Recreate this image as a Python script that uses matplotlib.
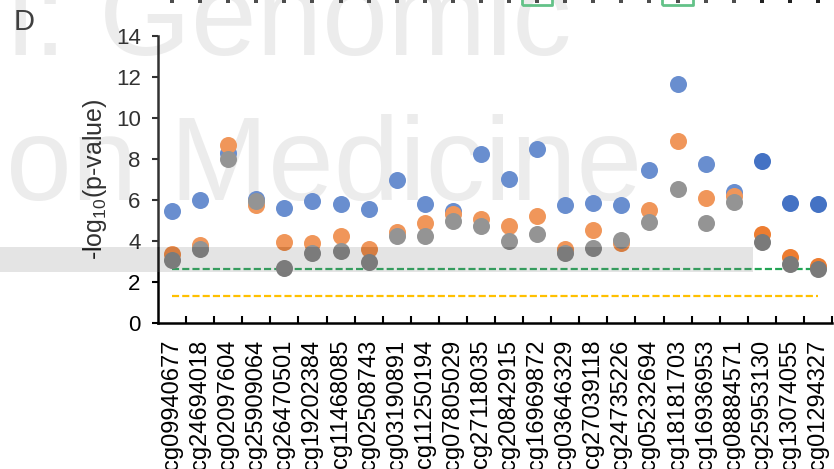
"""
Panel D: -log10(p-value) per CpG site, three models
"""
import numpy as np
import matplotlib
matplotlib.use('Agg')
import matplotlib.pyplot as plt
from matplotlib.patches import Rectangle

plt.rcParams['font.family'] = 'Liberation Sans'
plt.rcParams['mathtext.fontset'] = 'custom'
plt.rcParams['mathtext.rm'] = 'Liberation Sans'

# CpG sites on the x axis
sites = ['cg09940677', 'cg24694018', 'cg02097604', 'cg25909064', 'cg26470501',
         'cg19202384', 'cg11468085', 'cg02508743', 'cg03190891', 'cg11250194',
         'cg07805029', 'cg27118035', 'cg20842915', 'cg16969872', 'cg03646329',
         'cg27039118', 'cg24735226', 'cg05232694', 'cg18181703', 'cg16936953',
         'cg08884571', 'cg25953130', 'cg13074055', 'cg01294327']

# -log10(p) for the three series (blue, orange, gray)
blue_vals = [5.48, 6.03, 8.3, 6.08, 5.6, 5.97, 5.8, 5.56, 7.0, 5.8, 5.48, 8.28,
             7.02, 8.49, 5.76, 5.87, 5.76, 7.46, 11.66, 7.76, 6.38, 7.9, 5.84, 5.8]
orange_vals = [3.37, 3.79, 8.68, 5.76, 3.97, 3.92, 4.24, 3.6, 4.45, 4.9, 5.35, 5.06,
               4.73, 5.22, 3.64, 4.54, 3.89, 5.51, 8.89, 6.13, 6.2, 4.34, 3.23, 2.8]
gray_vals = [3.07, 3.6, 8.0, 5.95, 2.7, 3.43, 3.53, 3.0, 4.24, 4.24, 4.99, 4.75,
             4.01, 4.37, 3.43, 3.67, 4.05, 4.94, 6.57, 4.91, 5.92, 3.94, 2.88, 2.63]

# significance thresholds
bonf_thr = 2.65     # green dashed
nominal_thr = 1.3   # yellow dashed

# sites boxed in the panel above (only its bottom edge shows)
boxed_sites = ['cg16969872', 'cg18181703']

W, H = 834, 469
fig = plt.figure(figsize=(W / 100, H / 100), dpi=100)

# watermark left in the source image
fig.text(-58 / W, 1 - 55 / H, 'nl: Genomic', fontsize=85, color='#E8E8E8', zorder=-2)
fig.text(6 / W, 1 - 200 / H, 'on Medicine', fontsize=85, color='#E8E8E8', zorder=-2)

ax = fig.add_axes([158 / W, 1 - 323 / H, (832 - 158) / W, (323 - 36.5) / H])
ax.set_facecolor('none')

x = np.arange(len(sites))
ms = 150
ax.scatter(x, blue_vals, s=ms, color='#4472C4', linewidths=0, zorder=3)
ax.scatter(x, orange_vals, s=ms, color='#ED7D31', linewidths=0, zorder=4)
ax.scatter(x, gray_vals, s=ms, color='#7A7A7A', linewidths=0, zorder=5)

ends = x[[0, -1]]
ax.plot(ends, [bonf_thr] * 2, color='#23A455', lw=1.6, ls=(0, (3.2, 1.4)), zorder=2)
ax.plot(ends, [nominal_thr] * 2, color='#FFC000', lw=1.6, ls=(0, (3.2, 1.4)), zorder=2)

# bottom edge of the panel above
ax.scatter(x, [15.74] * len(x), marker='s', s=9, color='#222222',
           linewidths=0, clip_on=False)
bx = [sites.index(s) for s in boxed_sites]
ax.scatter(bx, [16.28] * len(bx), marker='s', s=480, facecolors='none',
           edgecolors='#3DB36B', linewidths=2, clip_on=False)

ax.set_xlim(-0.5, len(sites) - 0.5)
ax.set_ylim(0, 14)
ax.set_yticks(np.arange(0, 15, 2))
ax.set_xticks(x)
ax.set_xticklabels(sites, rotation=90, fontsize=17)
ax.set_xticks(np.arange(0.5, len(sites)), minor=True)
ax.tick_params(axis='x', which='major', length=0, pad=12)
ax.tick_params(axis='x', which='minor', direction='in', length=5, width=1.5)
ax.tick_params(axis='y', direction='out', length=4.5, width=1.5, labelsize=16, pad=8)

for side in ['top', 'right']:
    ax.spines[side].set_visible(False)
for side in ['left', 'bottom']:
    ax.spines[side].set_linewidth(1.8)

ax.set_ylabel(r'-log$_{\mathrm{10}}$(p-value)', fontsize=18, labelpad=5)

fig.text(14 / W, 1 - 30 / H, 'D', fontsize=21, color='#111111')

# translucent parts of the watermark
x_end = 753 / W
fig.add_artist(Rectangle((0, 1 - 271.7 / H), x_end, 25 / H, transform=fig.transFigure,
                         facecolor='#808080', alpha=0.21, linewidth=0, zorder=10))
fig.add_artist(Rectangle((0, 1 - 246.7 / H), x_end, 246.7 / H, transform=fig.transFigure,
                         facecolor='white', alpha=0.2, linewidth=0, zorder=10))

plt.savefig('out.png', dpi=100)
plt.close()
